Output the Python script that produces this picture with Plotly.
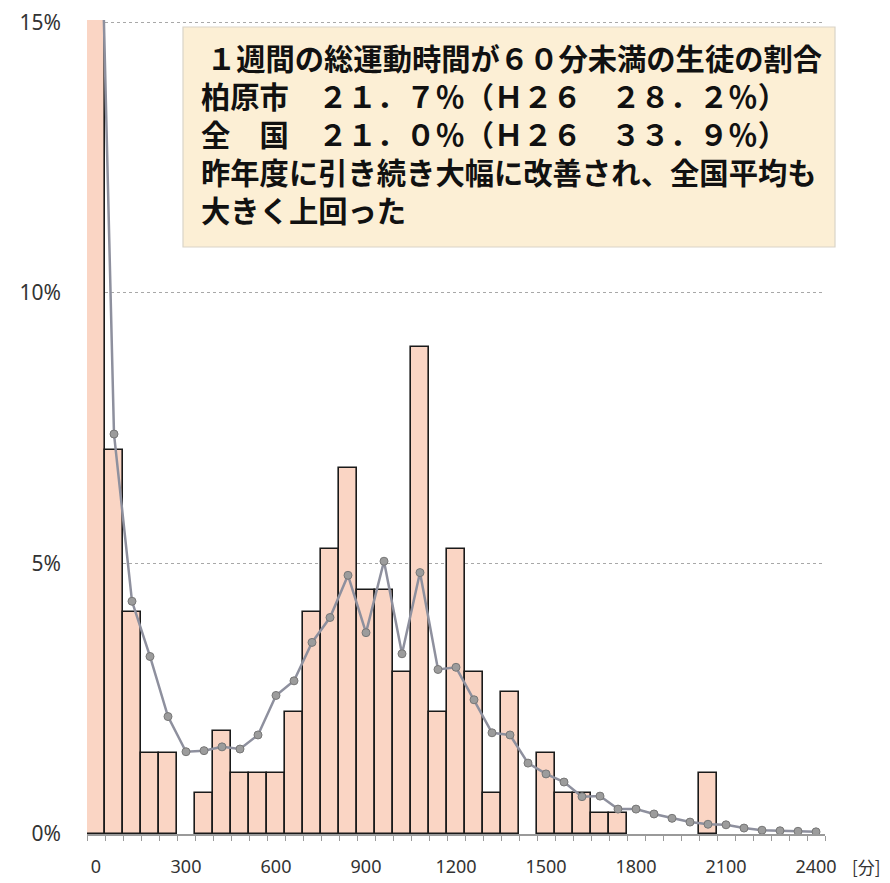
import plotly.graph_objects as go

# bins (minutes per week), label = bin start
bins = list(range(0, 2401, 60))

# 柏原市 (bars), percent
kashiwara = [21.7, 7.1, 4.1, 1.5, 1.5, 0, 0.75, 1.9, 1.13, 1.13,
             1.13, 2.26, 4.1, 5.26, 6.77, 4.5, 4.5, 3.0, 9.0, 2.26,
             5.26, 3.0, 0.75, 2.63, 0, 1.5, 0.75, 0.75, 0.38, 0.38,
             0, 0, 0, 0, 1.13, 0, 0, 0, 0, 0, 0]

# 全国 (line), percent
national = [21.0, 7.39, 4.3, 3.28, 2.17, 1.52, 1.54, 1.61, 1.57, 1.83,
            2.56, 2.83, 3.54, 4.0, 4.78, 3.72, 5.04, 3.33, 4.83, 3.04,
            3.08, 2.48, 1.87, 1.83, 1.31, 1.11, 0.96, 0.69, 0.70, 0.46,
            0.46, 0.37, 0.29, 0.22, 0.18, 0.17, 0.11, 0.07, 0.06, 0.05, 0.04]

x_ticks = [0, 300, 600, 900, 1200, 1500, 1800, 2100, 2400]
y_ticks = [0, 5, 10, 15]
y_ticktext = ["0%", "5%", "10%", "15%"]

box_lines = [
    "\u2009１週間の総運動時間が６０分未満の生徒の割合",
    "柏原市　２１．７％（Ｈ２６　２８．２％）",
    "全　国　２１．０％（Ｈ２６　３３．９％）",
    "昨年度に引き続き大幅に改善され、全国平均も",
    "大きく上回った",
]

# page has an 8px body margin; figure sized to fit the window
OFF = 8
W, H = 890 - OFF, 883 - OFF
YMAX = 15.04
PL, PR, PT, PB = 87, 825, 20, 834  # plot area in page pixels
L, R, T, B = PL - OFF, 890 - PR, PT - OFF, 883 - PB
pw, ph = PR - PL, PB - PT

def px(x):
    return (x - PL) / pw

def py(y):
    return (PB - y) / ph

fig = go.Figure()
fig.add_trace(go.Bar(
    x=bins, y=[v if v > 0 else None for v in kashiwara],
    width=60,
    marker=dict(color="#fad5c4", line=dict(color="#1a1a1a", width=1.6)),
    showlegend=False, hoverinfo="skip",
))
fig.add_trace(go.Scatter(
    x=bins, y=national, mode="lines+markers",
    line=dict(color="#8e909e", width=2.5),
    marker=dict(size=8, color="#9c9c9c", line=dict(color="#777777", width=1)),
    showlegend=False, hoverinfo="skip",
))

fig.update_layout(
    width=W, height=H, autosize=False,
    margin=dict(l=L, r=R, t=T, b=B, autoexpand=False),
    paper_bgcolor="white", plot_bgcolor="white",
    bargap=0,
    font=dict(family="Noto Sans, Open Sans, sans-serif", size=17, color="#333333"),
    xaxis=dict(
        range=[-30, 2430], tickvals=x_ticks, ticktext=[str(v) for v in x_ticks],
        ticks="", showgrid=False, zeroline=False,
        showline=True, linecolor="#9a9a9a", linewidth=1.5,
        ticklabelstandoff=16,
        minor=dict(ticks="outside", tick0=-30, dtick=60, ticklen=5,
                   tickcolor="#9a9a9a", tickwidth=1, showgrid=False),
        tickfont=dict(size=18, color="#333333"),
    ),
    yaxis=dict(
        range=[0, YMAX], tickvals=y_ticks, ticktext=y_ticktext,
        showgrid=True, gridcolor="#a8a8a8", gridwidth=1, griddash="dot",
        zeroline=False, showline=False, ticks="",
        ticklabelstandoff=25, ticklabeloverflow="allow",
        tickfont=dict(size=21, color="#333333"),
    ),
)

# text box
fig.add_shape(type="rect", xref="paper", yref="paper",
              x0=px(183), x1=px(835), y0=py(247), y1=py(27),
              fillcolor="#fcefd5", line=dict(color="#d9d4c8", width=1.2), layer="above")

fig.add_annotation(text="<br>".join("<b>" + t + "</b>" for t in box_lines),
                   xref="paper", yref="paper",
                   x=px(199), y=py(133), xanchor="left", yanchor="middle",
                   align="left", showarrow=False,
                   font=dict(family="Noto Sans CJK JP", size=29.3, color="#111111"))

fig.add_annotation(text="[分]", xref="paper", yref="paper",
                   x=px(866), y=py(866), xanchor="center", yanchor="middle",
                   showarrow=False,
                   font=dict(family="Noto Sans CJK JP", size=17, color="#333333"))

fig.write_html("out.html")
